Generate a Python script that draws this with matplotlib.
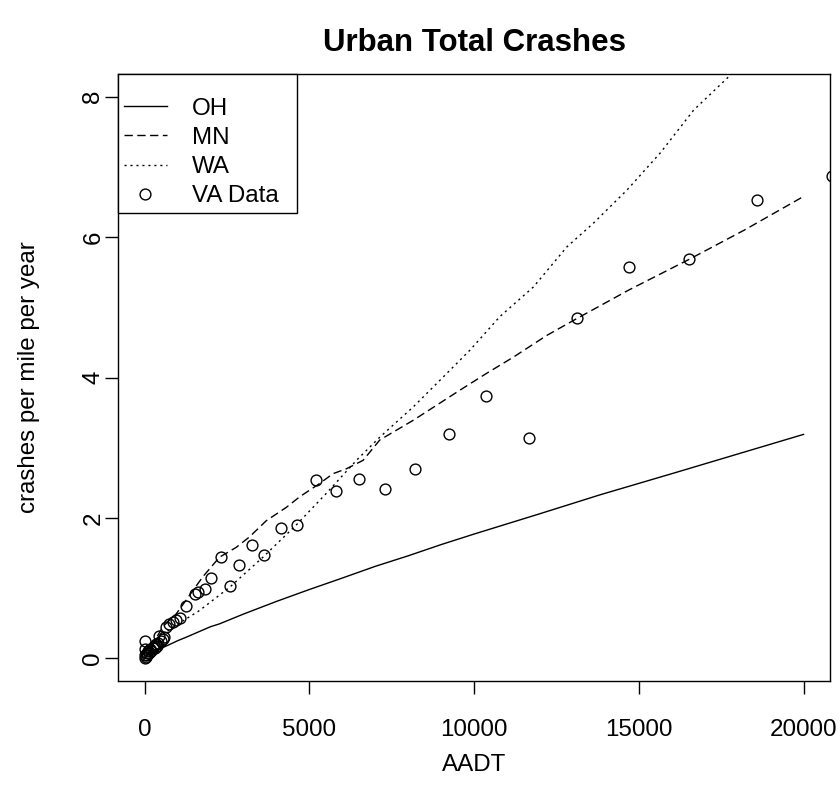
import matplotlib
matplotlib.use("Agg")
import matplotlib.pyplot as plt

plt.rcParams["font.family"] = ["Liberation Sans", "DejaVu Sans"]

# model curves: crashes per mile per year against AADT
oh_aadt = [0, 150, 500, 1000, 1260, 2000, 2270, 3000, 4000, 5000, 5920, 7000, 8000,
           9000, 10000, 12000, 13830, 16000, 18000, 20000]
oh_rate = [0.0, 0.09, 0.14, 0.25, 0.30, 0.45, 0.49, 0.63, 0.81, 0.98, 1.13, 1.31, 1.46,
           1.62, 1.77, 2.06, 2.33, 2.63, 2.91, 3.19]

mn_aadt = [0, 550, 955, 1764, 2272, 2779, 3184, 3692, 4300, 4704, 5312, 5717, 6124,
           6630, 7137, 8150, 9570, 10381, 11191, 12206, 13117, 14709, 16512, 18200, 20000]
mn_rate = [0.0, 0.45, 0.63, 1.16, 1.44, 1.58, 1.73, 1.96, 2.15, 2.30, 2.49, 2.63, 2.70,
           2.82, 3.11, 3.39, 3.82, 4.06, 4.29, 4.60, 4.84, 5.25, 5.68, 6.10, 6.58]

wa_aadt = [0, 447, 851, 1663, 2576, 3590, 4604, 5515, 6428, 7137, 8150, 8961, 9874,
           10786, 11800, 12814, 13624, 14638, 15651, 16664, 17782, 20000]
wa_rate = [0.0, 0.30, 0.44, 0.68, 1.01, 1.44, 1.90, 2.35, 2.82, 3.15, 3.58, 3.96, 4.39,
           4.87, 5.29, 5.86, 6.20, 6.67, 7.20, 7.81, 8.31, 9.50]

# observed Virginia segments
va_aadt = [0, 0, 0, 0, 40, 60, 80, 110, 140, 170, 200, 240, 280, 320, 350, 380, 420,
           450, 500, 550, 600, 650, 750, 851, 955, 1086, 1259, 1542, 1624, 1831, 2028,
           2317, 2591, 2858, 3254, 3631, 4127, 4613, 5191, 5799, 6499, 7310, 8201,
           9235, 10375, 11653, 13112, 14709, 16512, 18592, 20873]
va_rate = [0.0, 0.05, 0.13, 0.25, 0.02, 0.08, 0.05, 0.11, 0.07, 0.13, 0.10, 0.15, 0.18,
           0.14, 0.20, 0.17, 0.22, 0.32, 0.25, 0.28, 0.30, 0.44, 0.49, 0.51, 0.55, 0.57,
           0.74, 0.92, 0.94, 0.99, 1.14, 1.45, 1.03, 1.33, 1.62, 1.47, 1.85, 1.90, 2.54,
           2.39, 2.56, 2.41, 2.69, 3.19, 3.73, 3.14, 4.85, 5.58, 5.69, 6.53, 6.87]

fig = plt.figure(figsize=(8.4, 7.99), dpi=100)
ax = fig.add_axes([0.1408, 0.148, 0.8472, 0.759])

lw = 1.0
ax.plot(oh_aadt, oh_rate, color="black", lw=lw, label="OH")
ax.plot(mn_aadt, mn_rate, color="black", lw=lw, dashes=(6, 3.2), label="MN")
ax.plot(wa_aadt, wa_rate, color="black", lw=lw, dashes=(1.5, 2.8), label="WA")
ax.plot(va_aadt, va_rate, linestyle="none", marker="o", markersize=7.8,
        markerfacecolor="none", markeredgecolor="black", markeredgewidth=1.0,
        label="VA Data")

ax.set_xlim(-800, 20800)
ax.set_ylim(-0.32, 8.32)
ax.set_xticks([0, 5000, 10000, 15000, 20000])
ax.set_yticks([0, 2, 4, 6, 8])

for side in ax.spines.values():
    side.set_linewidth(1.0)
ax.tick_params(direction="out", length=9.5, width=1.0, labelsize=17.4, pad=18)
ax.tick_params(axis="y", pad=0.5)
for lab in ax.get_yticklabels():
    lab.set_rotation(90)
    lab.set_va("center")

ax.set_xlabel("AADT", fontsize=17.4, labelpad=9.4)
ax.set_ylabel("crashes per mile per year", fontsize=17.4, labelpad=30.5)
ax.set_title("Urban Total Crashes", fontsize=22.5, fontweight="bold", pad=17)

# blank small title gives the extra room above the first entry;
# expand mode stretches the box to a fixed width
leg = ax.legend(loc="upper left", bbox_to_anchor=(0, 0, 0.251, 1), mode="expand",
                borderaxespad=0, fontsize=17.4, fancybox=False, edgecolor="black",
                framealpha=1, handlelength=1.75, handletextpad=1.05,
                labelspacing=0.3, borderpad=0.25, title=" ", title_fontsize=7.5)
leg.get_frame().set_linewidth(1.0)

fig.savefig("out.png", dpi=100)
